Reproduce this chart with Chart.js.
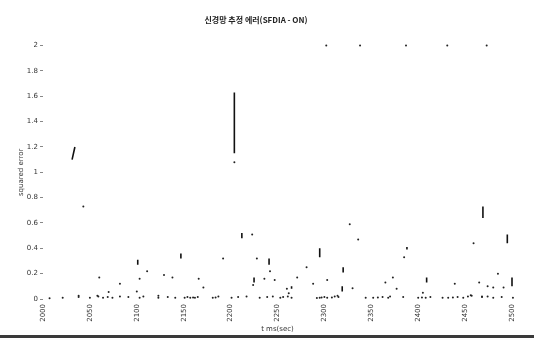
<!DOCTYPE html>
<html>
<head>
<meta charset="utf-8">
<script src="https://cdn.jsdelivr.net/npm/chart.js@4/dist/chart.umd.min.js"></script>
<style>
  html, body { margin: 0; padding: 0; background: #fff; }
  #wrap { position: relative; width: 534px; height: 341px; }
  #scanline { position: absolute; left: 0; top: 335px; width: 534px; height: 3px; background: #3a3a3a; }
</style>
</head>
<body>
<div id="wrap">
  <canvas id="errChart" width="534" height="341"></canvas>
  <div id="scanline"></div>
</div>
<script>
// 오차 데이터 (읽어낸 값)
const xTicks = [2000, 2050, 2100, 2150, 2200, 2250, 2300, 2350, 2400, 2450, 2500];
const yTicks = [0, 0.2, 0.4, 0.6, 0.8, 1, 1.2, 1.4, 1.6, 1.8, 2];

// 단일 점
const pointX = [2043, 2060, 2103, 2082, 2070, 2100, 2038, 2058, 2123, 2111, 2129, 2138, 2166, 2171,
  2192, 2223, 2228, 2242, 2236, 2247, 2224, 2260, 2327, 2336, 2281, 2271, 2385, 2303, 2288, 2330,
  2262, 2315, 2365, 2373, 2377, 2459, 2439, 2465, 2474, 2485, 2491, 2480, 2405, 2456, 2468,
  2302, 2338, 2387, 2431, 2473, 2204];
const pointY = [0.73, 0.17, 0.16, 0.12, 0.055, 0.06, 0.025, 0.025, 0.025, 0.22, 0.19, 0.17, 0.16, 0.09,
  0.32, 0.51, 0.32, 0.22, 0.16, 0.15, 0.11, 0.08, 0.59, 0.47, 0.25, 0.17, 0.33, 0.15, 0.12, 0.085,
  0.045, 0.016, 0.13, 0.17, 0.08, 0.44, 0.12, 0.13, 0.10, 0.2, 0.09, 0.09, 0.05, 0.03, 0.02,
  2, 2, 2, 2, 2, 1.08];

// 0 근처 점들
const baseX = [2007, 2021, 2038, 2050, 2059, 2064, 2069, 2074, 2082, 2091, 2103, 2107, 2123, 2133,
  2141, 2151, 2154, 2157, 2160, 2162, 2165, 2181, 2184, 2187, 2201, 2208, 2217, 2231, 2239, 2245,
  2253, 2256, 2261, 2265, 2292, 2295, 2297, 2300, 2303, 2308, 2311, 2314, 2344, 2352, 2357, 2362,
  2368, 2370, 2384, 2400, 2404, 2408, 2413, 2426, 2432, 2437, 2442, 2448, 2453, 2457, 2468, 2474,
  2480, 2489, 2501];
const baseY = [0.005, 0.01, 0.015, 0.01, 0.02, 0.01, 0.015, 0.01, 0.02, 0.015, 0.01, 0.02, 0.01, 0.015,
  0.01, 0.01, 0.015, 0.01, 0.012, 0.01, 0.015, 0.01, 0.012, 0.02, 0.01, 0.015, 0.02, 0.01, 0.015, 0.02,
  0.01, 0.015, 0.02, 0.01, 0.008, 0.01, 0.012, 0.015, 0.01, 0.012, 0.02, 0.025, 0.01, 0.01, 0.012, 0.015,
  0.01, 0.02, 0.015, 0.01, 0.012, 0.01, 0.015, 0.01, 0.01, 0.012, 0.015, 0.01, 0.02, 0.025, 0.015, 0.02,
  0.01, 0.015, 0.01];

// 세로 줄무늬 (시작점 - 끝점)
const streakX0 = [2031, 2101, 2147, 2204, 2212, 2241, 2225, 2265, 2295, 2320, 2319, 2388, 2409, 2469, 2495, 2500];
const streakY0 = [1.10, 0.27, 0.32, 1.15, 0.48, 0.27, 0.13, 0.08, 0.33, 0.21, 0.06, 0.39, 0.13, 0.64, 0.44, 0.10];
const streakX1 = [2034, 2101, 2147, 2204, 2212, 2241, 2225, 2265, 2295, 2320, 2319, 2388, 2409, 2469, 2495, 2500];
const streakY1 = [1.20, 0.31, 0.36, 1.63, 0.52, 0.32, 0.17, 0.10, 0.40, 0.25, 0.10, 0.41, 0.17, 0.73, 0.51, 0.17];

const pointData = pointX.map((x, i) => ({ x: x, y: pointY[i] }))
  .concat(baseX.map((x, i) => ({ x: x, y: baseY[i] })));

const streakData = [];
streakX0.forEach((x, i) => {
  streakData.push({ x: x, y: streakY0[i] });
  streakData.push({ x: streakX1[i], y: streakY1[i] });
  streakData.push({ x: streakX1[i], y: null });
});

const tickFont = { family: "DejaVu Sans", size: 7 };

window.onload = () => {
  const ctx = document.getElementById("errChart").getContext("2d");
  new Chart(ctx, {
    type: "scatter",
    data: {
      datasets: [
        {
          label: "streaks",
          data: streakData,
          showLine: true,
          spanGaps: false,
          borderColor: "#111",
          borderWidth: 1.6,
          pointRadius: 0,
          clip: false,
        },
        {
          label: "points",
          data: pointData,
          backgroundColor: "#222",
          borderWidth: 0,
          pointRadius: 1,
          clip: false,
        },
      ],
    },
    options: {
      responsive: false,
      animation: false,
      layout: { padding: { left: 0, right: 22, top: 0, bottom: 0 } },
      plugins: {
        legend: { display: false },
        tooltip: { enabled: false },
        title: {
          display: true,
          text: "신경망 추정 에러(SFDIA - ON)",
          color: "#222",
          font: { family: "Noto Sans CJK KR", size: 8, weight: "bold" },
          padding: { top: 15, bottom: 21 },
        },
      },
      scales: {
        x: {
          type: "linear",
          min: 2000,
          max: 2500,
          afterFit: (s) => { s.height = 42; },
          afterBuildTicks: (s) => { s.ticks = xTicks.map((v) => ({ value: v })); },
          grid: { display: true, drawOnChartArea: false, drawTicks: false },
          border: { display: false },
          ticks: {
            color: "#333",
            font: tickFont,
            maxRotation: 90,
            minRotation: 90,
            padding: 5,
            autoSkip: false,
            callback: (v) => String(v),
          },
          title: {
            display: true,
            text: "t ms(sec)",
            color: "#333",
            font: tickFont,
            padding: { top: 0, bottom: 8 },
          },
        },
        y: {
          min: 0,
          max: 2,
          afterFit: (s) => { s.width = 43; },
          afterBuildTicks: (s) => { s.ticks = yTicks.map((v) => ({ value: v })); },
          grid: { display: true, drawOnChartArea: false, tickLength: 3, color: "#888" },
          border: { display: false },
          ticks: {
            color: "#333",
            font: tickFont,
            padding: 2,
            autoSkip: false,
            callback: (v) => String(v),
          },
          title: {
            display: true,
            text: "squared error",
            color: "#333",
            font: tickFont,
            padding: { top: 17, bottom: 0 },
          },
        },
      },
    },
  });
};
</script>
</body>
</html>
